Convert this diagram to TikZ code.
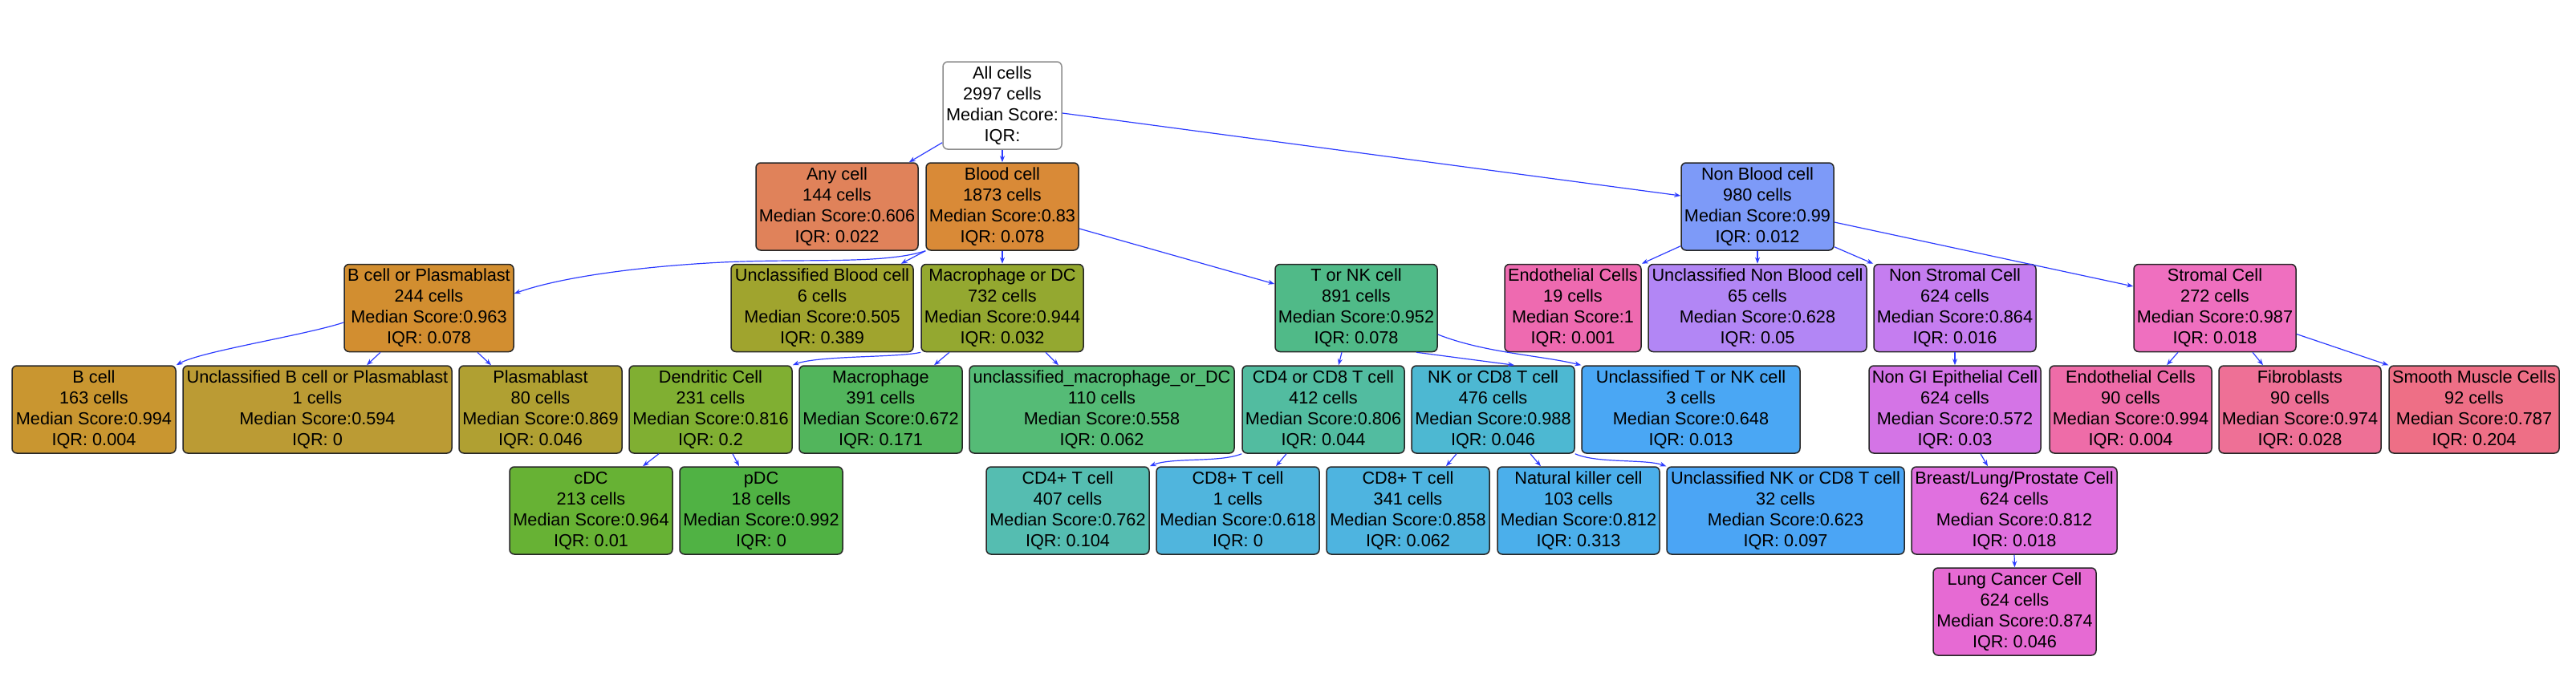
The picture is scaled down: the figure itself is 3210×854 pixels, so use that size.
\documentclass[tikz,border=0pt]{standalone}
\usepackage{fontspec}
\setmainfont{Liberation Sans}
\usetikzlibrary{arrows.meta}
\definecolor{edgeblue}{RGB}{45,60,255}
\definecolor{cAny}{HTML}{E0825A}
\definecolor{cBlood}{HTML}{D98A37}
\definecolor{cBPl}{HTML}{D28E30}
\definecolor{cB}{HTML}{C99630}
\definecolor{cUnB}{HTML}{BB9B34}
\definecolor{cPlasma}{HTML}{B0A032}
\definecolor{cUnBlood}{HTML}{A0A42E}
\definecolor{cMacDC}{HTML}{94A830}
\definecolor{cDend}{HTML}{80AF32}
\definecolor{ccDC}{HTML}{67B234}
\definecolor{cpDC}{HTML}{50B244}
\definecolor{cMac}{HTML}{52B55C}
\definecolor{cUnMac}{HTML}{55BB76}
\definecolor{cTNK}{HTML}{50BA88}
\definecolor{cCDfo}{HTML}{52BCA0}
\definecolor{cCDf}{HTML}{55BDB1}
\definecolor{cNKCD}{HTML}{4DB8D2}
\definecolor{cCDeA}{HTML}{50B5DD}
\definecolor{cCDeB}{HTML}{4EB4E0}
\definecolor{cNK}{HTML}{4BAFEB}
\definecolor{cUnTNK}{HTML}{4AA7F4}
\definecolor{cUnNK}{HTML}{4BA5F5}
\definecolor{cNonBlood}{HTML}{7D9AF8}
\definecolor{cUnNonBlood}{HTML}{B286F5}
\definecolor{cNonStromal}{HTML}{C57DF0}
\definecolor{cNonGI}{HTML}{D474E6}
\definecolor{cBreast}{HTML}{E070DF}
\definecolor{cLung}{HTML}{E66AD3}
\definecolor{cEndoA}{HTML}{EE6AB0}
\definecolor{cStromal}{HTML}{EF6FBF}
\definecolor{cEndoB}{HTML}{EE6CA8}
\definecolor{cFibro}{HTML}{EE7096}
\definecolor{cSmooth}{HTML}{EE6F86}
\tikzset{
  cell/.style={draw=black!85, line width=1.5pt, rounded corners=6pt, inner sep=0pt,
    align=center, minimum height=109pt, font=\fontsize{21.7}{26}\selectfont},
  rootcell/.style={cell, draw=black!45, fill=white},
  edge/.style={draw=edgeblue, line width=1.2pt, -{Stealth[length=8pt,width=6pt]}}
}
\begin{document}
\begin{tikzpicture}[x=1pt,y=-1pt]
\useasboundingbox (0,0) rectangle (3210,854);
% row 0
\node[rootcell, minimum width=148pt] (all) at (1249,131.5) {All cells\\2997 cells\\Median Score:\\IQR:};
% row 1
\node[cell, fill=cAny, minimum width=202pt] (any) at (1043,257.5) {Any cell\\144 cells\\Median Score:0.606\\IQR: 0.022};
\node[cell, fill=cBlood, minimum width=190pt] (blood) at (1249,257.5) {Blood cell\\1873 cells\\Median Score:0.83\\IQR: 0.078};
\node[cell, fill=cNonBlood, minimum width=190pt] (nonblood) at (2190,257.5) {Non Blood cell\\980 cells\\Median Score:0.99\\IQR: 0.012};
% row 2
\node[cell, fill=cBPl, minimum width=211pt] (bplasma) at (534.5,384) {B cell or Plasmablast\\244 cells\\Median Score:0.963\\IQR: 0.078};
\node[cell, fill=cUnBlood, minimum width=227pt] (unblood) at (1024.5,384) {Unclassified Blood cell\\6 cells\\Median Score:0.505\\IQR: 0.389};
\node[cell, fill=cMacDC, minimum width=202pt] (macdc) at (1249,384) {Macrophage or DC\\732 cells\\Median Score:0.944\\IQR: 0.032};
\node[cell, fill=cTNK, minimum width=202pt] (tnk) at (1690,384) {T or NK cell\\891 cells\\Median Score:0.952\\IQR: 0.078};
\node[cell, fill=cEndoA, minimum width=170pt] (endoA) at (1960,384) {Endothelial Cells\\19 cells\\Median Score:1\\IQR: 0.001};
\node[cell, fill=cUnNonBlood, minimum width=272pt] (unnonblood) at (2190,384) {Unclassified Non Blood cell\\65 cells\\Median Score:0.628\\IQR: 0.05};
\node[cell, fill=cNonStromal, minimum width=202pt] (nonstromal) at (2436,384) {Non Stromal Cell\\624 cells\\Median Score:0.864\\IQR: 0.016};
\node[cell, fill=cStromal, minimum width=202pt] (stromal) at (2760,384) {Stromal Cell\\272 cells\\Median Score:0.987\\IQR: 0.018};
% row 3
\node[cell, fill=cB, minimum width=204pt] (bcell) at (117,510.5) {B cell\\163 cells\\Median Score:0.994\\IQR: 0.004};
\node[cell, fill=cUnB, minimum width=335pt] (unb) at (395.5,510.5) {Unclassified B cell or Plasmablast\\1 cells\\Median Score:0.594\\IQR: 0};
\node[cell, fill=cPlasma, minimum width=203pt] (plasma) at (673.5,510.5) {Plasmablast\\80 cells\\Median Score:0.869\\IQR: 0.046};
\node[cell, fill=cDend, minimum width=203pt] (dend) at (885.5,510.5) {Dendritic Cell\\231 cells\\Median Score:0.816\\IQR: 0.2};
\node[cell, fill=cMac, minimum width=203pt] (mac) at (1097.5,510.5) {Macrophage\\391 cells\\Median Score:0.672\\IQR: 0.171};
\node[cell, fill=cUnMac, minimum width=330pt] (unmac) at (1373,510.5) {unclassified\_macrophage\_or\_DC\\110 cells\\Median Score:0.558\\IQR: 0.062};
\node[cell, fill=cCDfo, minimum width=202pt] (cd4cd8) at (1649,510.5) {CD4 or CD8 T cell\\412 cells\\Median Score:0.806\\IQR: 0.044};
\node[cell, fill=cNKCD, minimum width=203pt] (nkcd8) at (1860.5,510.5) {NK or CD8 T cell\\476 cells\\Median Score:0.988\\IQR: 0.046};
\node[cell, fill=cUnTNK, minimum width=272pt] (untnk) at (2107,510.5) {Unclassified T or NK cell\\3 cells\\Median Score:0.648\\IQR: 0.013};
\node[cell, fill=cNonGI, minimum width=214pt] (nongi) at (2436,510.5) {Non GI Epithelial Cell\\624 cells\\Median Score:0.572\\IQR: 0.03};
\node[cell, fill=cEndoB, minimum width=202pt] (endoB) at (2655,510.5) {Endothelial Cells\\90 cells\\Median Score:0.994\\IQR: 0.004};
\node[cell, fill=cFibro, minimum width=202pt] (fibro) at (2866,510.5) {Fibroblasts\\90 cells\\Median Score:0.974\\IQR: 0.028};
\node[cell, fill=cSmooth, minimum width=212pt] (smooth) at (3083,510.5) {Smooth Muscle Cells\\92 cells\\Median Score:0.787\\IQR: 0.204};
% row 4
\node[cell, fill=ccDC, minimum width=203pt] (cdc) at (736.5,636.5) {cDC\\213 cells\\Median Score:0.964\\IQR: 0.01};
\node[cell, fill=cpDC, minimum width=203pt] (pdc) at (948.5,636.5) {pDC\\18 cells\\Median Score:0.992\\IQR: 0};
\node[cell, fill=cCDf, minimum width=203pt] (cd4) at (1330.5,636.5) {CD4+ T cell\\407 cells\\Median Score:0.762\\IQR: 0.104};
\node[cell, fill=cCDeA, minimum width=203pt] (cd8a) at (1542.5,636.5) {CD8+ T cell\\1 cells\\Median Score:0.618\\IQR: 0};
\node[cell, fill=cCDeB, minimum width=203pt] (cd8b) at (1754.5,636.5) {CD8+ T cell\\341 cells\\Median Score:0.858\\IQR: 0.062};
\node[cell, fill=cNK, minimum width=202pt] (nk) at (1967,636.5) {Natural killer cell\\103 cells\\Median Score:0.812\\IQR: 0.313};
\node[cell, fill=cUnNK, minimum width=296pt] (unnk) at (2225,636.5) {Unclassified NK or CD8 T cell\\32 cells\\Median Score:0.623\\IQR: 0.097};
\node[cell, fill=cBreast, minimum width=256pt] (breast) at (2510,636.5) {Breast/Lung/Prostate Cell\\624 cells\\Median Score:0.812\\IQR: 0.018};
% row 5
\node[cell, fill=cLung, minimum width=203pt] (lung) at (2510.5,762.5) {Lung Cancer Cell\\624 cells\\Median Score:0.874\\IQR: 0.046};
% edges
\draw[edge] ([yshift=9pt]all.south west) -- ([xshift=-12pt]any.north east);
\draw[edge] (all.south) -- (blood.north);
\draw[edge] ([yshift=-9.5pt]all.east) -- ([yshift=13.5pt]nonblood.west);
\draw[edge] (blood.south west) .. controls (1100,330) and (1000,322) .. (900,327) .. controls (800,332) and (700,345) .. ([yshift=18pt]bplasma.east);
\draw[edge] (blood.south west) -- ([xshift=-16pt]unblood.north east);
\draw[edge] (blood.south) -- (macdc.north);
\draw[edge] ([yshift=-27.5pt]blood.east) -- ([yshift=30pt]tnk.west);
\draw[edge] ([yshift=-18pt]bplasma.west) .. controls (380,418) and (250,438) .. (bcell.north east);
\draw[edge] ([xshift=-60.5pt]bplasma.south) -- ([xshift=61.5pt]unb.north);
\draw[edge] ([xshift=60.5pt]bplasma.south) -- ([xshift=-61.5pt]plasma.north);
\draw[edge] (macdc.south west) .. controls (1120,446) and (1020,443) .. (dend.north east);
\draw[edge] ([xshift=-66pt]macdc.south) -- ([xshift=66.5pt]mac.north);
\draw[edge] ([xshift=54pt]macdc.south) -- ([xshift=-54pt]unmac.north);
\draw[edge] ([xshift=-18pt]tnk.south) -- ([xshift=19pt]cd4cd8.north);
\draw[edge] ([xshift=75pt]tnk.south) -- ([xshift=26.5pt]nkcd8.north);
\draw[edge] ([yshift=-33pt]tnk.east) .. controls (1850,440) and (1920,443) .. (untnk.north west);
\draw[edge] ([xshift=-64.5pt]dend.south) -- ([xshift=64.5pt]cdc.north);
\draw[edge] ([xshift=27.5pt]dend.south) -- ([xshift=-27.5pt]pdc.north);
\draw[edge] (cd4cd8.south west) .. controls (1520,577) and (1460,570) .. (cd4.north east);
\draw[edge] ([xshift=-46pt]cd4cd8.south) -- ([xshift=47.5pt]cd8a.north);
\draw[edge] ([xshift=-45.5pt]nkcd8.south) -- ([xshift=47.5pt]cd8b.north);
\draw[edge] ([xshift=46.5pt]nkcd8.south) -- ([xshift=-47pt]nk.north);
\draw[edge] (nkcd8.south east) .. controls (1990,578) and (2050,572) .. (unnk.north west);
\draw[edge] ([yshift=6pt]nonblood.south west) -- (endoA.north east);
\draw[edge] (nonblood.south) -- (unnonblood.north);
\draw[edge] ([yshift=5pt]nonblood.south east) -- (nonstromal.north west);
\draw[edge] ([yshift=-19.5pt]nonblood.east) -- ([yshift=27pt]stromal.west);
\draw[edge] (nonstromal.south) -- (nongi.north);
\draw[edge] ([xshift=-46pt]stromal.south) -- ([xshift=45pt]endoB.north);
\draw[edge] ([xshift=47pt]stromal.south) -- ([xshift=-46pt]fibro.north);
\draw[edge] ([yshift=-32.5pt]stromal.east) -- (smooth.north west);
\draw[edge] ([xshift=32pt]nongi.south) -- ([xshift=-33pt]breast.north);
\draw[edge] (breast.south) -- (lung.north);
\end{tikzpicture}
\end{document}
